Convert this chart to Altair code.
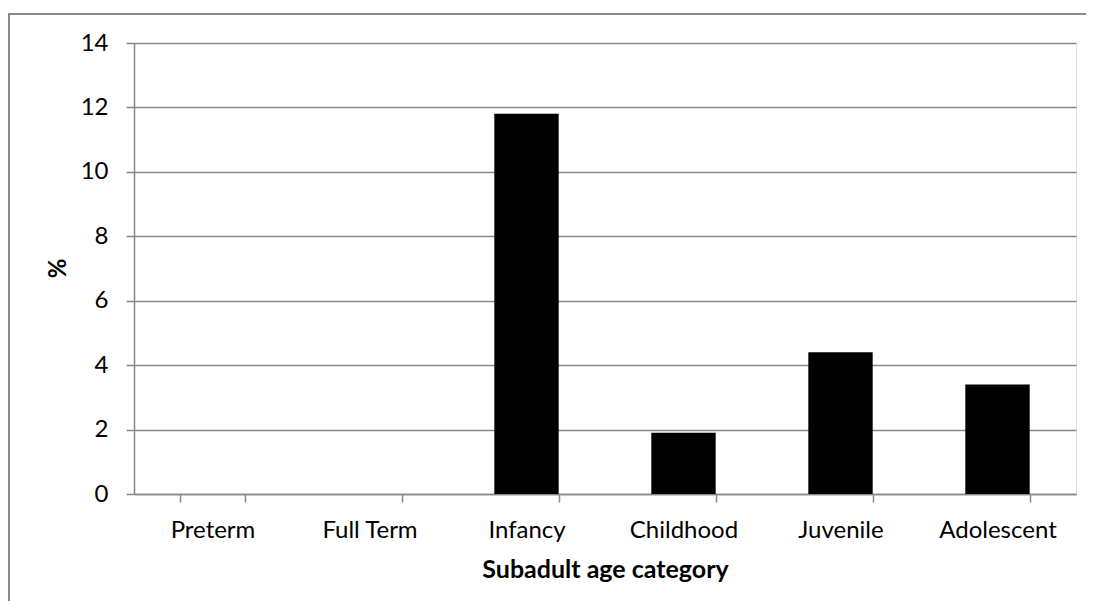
import altair as alt
import pandas as pd

categories = ["Preterm", "Full Term", "Infancy", "Childhood", "Juvenile", "Adolescent"]
values = [0, 0, 11.8, 1.9, 4.4, 3.4]
y_ticks = [0, 2, 4, 6, 8, 10, 12, 14]

df = pd.DataFrame({"cat": categories, "pct": values})
GRAY = "#888888"
FONT = "Lato"

bars = alt.Chart(df).mark_bar(color="black").encode(
    x=alt.X("cat:N", sort=categories,
            scale=alt.Scale(paddingInner=0.59, paddingOuter=0.295),
            axis=alt.Axis(title="Subadult age category", labelAngle=0, tickBand="extent",
                          tickSize=8, labelPadding=16, domainColor=GRAY, tickColor=GRAY,
                          domainWidth=1.5, tickWidth=1.5, grid=False,
                          labelFont=FONT, labelFontSize=24, labelColor="black",
                          titleFont=FONT, titleFontSize=25, titleFontWeight="bold",
                          titleColor="black", titleBaseline="alphabetic", titleY=83)),
    y=alt.Y("pct:Q", scale=alt.Scale(domain=[0, 14], nice=False),
            axis=alt.Axis(title="%", values=y_ticks, format="d", tickSize=8, labelPadding=18,
                          domainColor=GRAY, tickColor=GRAY, gridColor=GRAY,
                          domainWidth=1.5, tickWidth=1.5, gridWidth=1.5, grid=True,
                          labelFont=FONT, labelFontSize=24, labelColor="black",
                          titleFont=FONT, titleFontSize=24, titleFontWeight="bold",
                          titleColor="black", titleAngle=270, titleBaseline="middle",
                          titleX=-76, titleY=225)),
)

one = pd.DataFrame({"a": [0]})
top_rule = alt.Chart(one).mark_rule(stroke="#8a8a8a", strokeWidth=2, clip=False).encode(
    x=alt.value(-126), x2=alt.value(1200), y=alt.value(-29)
)
left_rule = alt.Chart(one).mark_rule(stroke="#8a8a8a", strokeWidth=2, clip=False).encode(
    x=alt.value(-125), y=alt.value(-30), y2=alt.value(900)
)

chart = alt.layer(top_rule, left_rule, bars).properties(
    width=942, height=451,
    autosize=alt.AutoSizeParams(type="none"),
    padding={"left": 126, "top": 35, "right": 10, "bottom": 107},
).configure_view(stroke=None).configure(background="white")

chart.save("out.html", embed_options={"renderer": "svg", "actions": False})
